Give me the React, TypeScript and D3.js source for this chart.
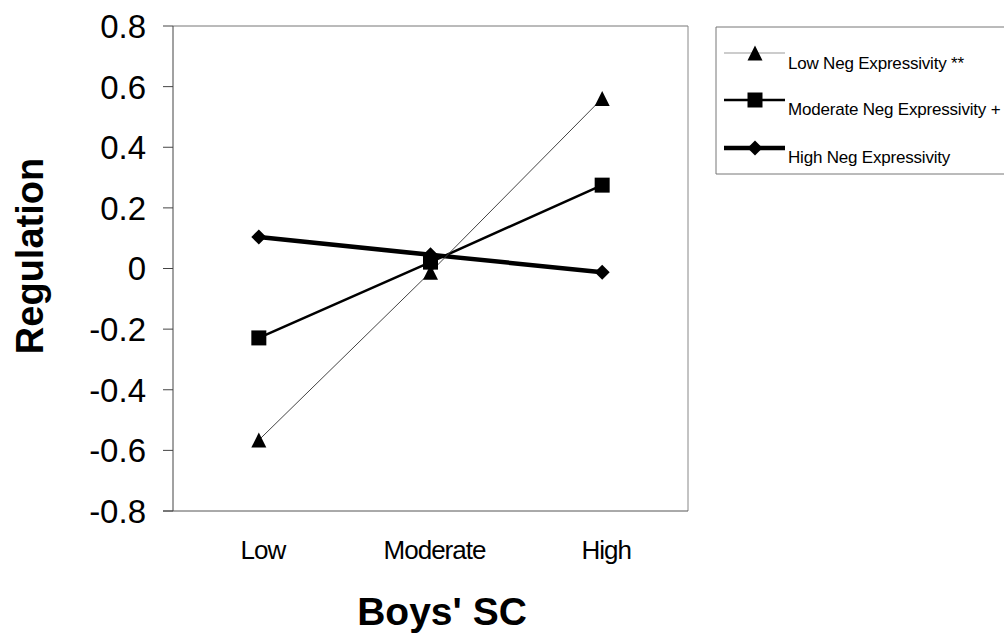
import React from 'react';
import * as d3 from 'd3';

// values
const categories = ['Low', 'Moderate', 'High'];
const lowNeg = [-0.566, -0.012, 0.561];
const modNeg = [-0.229, 0.021, 0.275];
const highNeg = [0.104, 0.045, -0.012];
const yTicks = [0.8, 0.6, 0.4, 0.2, 0, -0.2, -0.4, -0.6, -0.8];
const seriesNames = ['Low Neg Expressivity **', 'Moderate Neg Expressivity +', 'High Neg Expressivity'];

const font = '"Liberation Sans", Arial, sans-serif';

// marker shapes as d3 symbol types (size = width in px here)
const triType = {
  draw(ctx: any, s: number) {
    const h = s / 2;
    ctx.moveTo(0, -h);
    ctx.lineTo(h, h);
    ctx.lineTo(-h, h);
    ctx.closePath();
  },
};
const sqType = {
  draw(ctx: any, s: number) {
    const h = s / 2;
    ctx.rect(-h, -h, s, s);
  },
};
const diaType = {
  draw(ctx: any, s: number) {
    const h = s / 2;
    ctx.moveTo(0, -h);
    ctx.lineTo(h, 0);
    ctx.lineTo(0, h);
    ctx.lineTo(-h, 0);
    ctx.closePath();
  },
};

const series = [
  { name: seriesNames[0], values: lowNeg, type: triType, size: 15, width: 1, color: '#444', legendColor: '#999' },
  { name: seriesNames[1], values: modNeg, type: sqType, size: 15, width: 2.5, color: '#000', legendColor: '#000' },
  { name: seriesNames[2], values: highNeg, type: diaType, size: 15, width: 4.5, color: '#000', legendColor: '#000' },
];

export default function App() {
  const W = 1004;
  const H = 635;
  const left = 173, right = 688, top = 26, bottom = 511;

  const x = d3.scaleBand().domain(categories).range([left, right]);
  const y = d3.scaleLinear().domain([-0.8, 0.8]).range([bottom, top]);
  const cx = (c: string) => (x(c) as number) + x.bandwidth() / 2;

  const line = d3
    .line<number>()
    .x((_, i) => cx(categories[i]))
    .y((d) => y(d));

  const fmt = (v: number) => (v === 0 ? '0' : d3.format('.1f')(v).replace('−', '-'));

  const legX = 716, legTop = 27, legBottom = 174;
  const legRowY = [53, 100, 148];
  const legTextY = [69, 115, 163];

  return (
    <div style={{ position: 'absolute', left: 0, top: 0 }}>
      <svg width={W} height={H} style={{ display: 'block', background: '#fff' }}>
        {/* plot frame */}
        <line x1={left} x2={right} y1={top} y2={top} stroke="#777" strokeWidth={1} />
        <line x1={right} x2={right} y1={top} y2={bottom} stroke="#888" strokeWidth={1} />
        <line x1={left - 10} x2={right} y1={bottom} y2={bottom} stroke="#555" strokeWidth={1} />
        <line x1={left} x2={left} y1={top} y2={bottom} stroke="#444" strokeWidth={1} />

        {/* y ticks */}
        {yTicks.map((t) => (
          <g key={t}>
            <line x1={left - 10} x2={left} y1={y(t)} y2={y(t)} stroke="#444" strokeWidth={1} />
            <text
              x={146}
              y={y(t)}
              dy="0.36em"
              textAnchor="end"
              fontFamily={font}
              fontSize={33}
              fill="#000"
            >
              {fmt(t)}
            </text>
          </g>
        ))}

        {/* category labels */}
        {categories.map((c) => (
          <text
            key={c}
            x={cx(c) + 4}
            y={559}
            textAnchor="middle"
            fontFamily={font}
            fontSize={26}
            letterSpacing={-1}
            fill="#000"
          >
            {c}
          </text>
        ))}

        {/* axis titles */}
        <text
          transform={`translate(43,256) rotate(-90)`}
          textAnchor="middle"
          fontFamily={font}
          fontWeight="bold"
          fontSize={38}
          fill="#000"
        >
          Regulation
        </text>
        <text x={442} y={625} textAnchor="middle" fontFamily={font} fontWeight="bold" fontSize={39} fill="#000">
          Boys' SC
        </text>

        {/* series lines, thickest first */}
        {[...series].reverse().map((s) => (
          <path key={s.name} d={line(s.values) as string} fill="none" stroke={s.color} strokeWidth={s.width} />
        ))}
        {series.map((s) =>
          s.values.map((v, i) => (
            <path
              key={s.name + i}
              transform={`translate(${cx(categories[i])},${y(v)})`}
              d={d3.symbol().type(s.type as any).size(s.size)() as string}
              fill="#000"
            />
          ))
        )}

        {/* legend (right edge runs off the page) */}
        <line x1={legX} x2={1004} y1={legTop} y2={legTop} stroke="#777" strokeWidth={1} />
        <line x1={legX} x2={1004} y1={legBottom} y2={legBottom} stroke="#777" strokeWidth={1} />
        <line x1={legX} x2={legX} y1={legTop} y2={legBottom} stroke="#777" strokeWidth={1} />
        {series.map((s, i) => (
          <g key={s.name}>
            <line x1={724} x2={785} y1={legRowY[i]} y2={legRowY[i]} stroke={s.legendColor} strokeWidth={s.width} />
            <path
              transform={`translate(755,${legRowY[i]})`}
              d={d3.symbol().type(s.type as any).size(s.size)() as string}
              fill="#000"
            />
            <text x={788} y={legTextY[i]} fontFamily={font} fontSize={17} letterSpacing={-0.2} fill="#000">
              {s.name}
            </text>
          </g>
        ))}
      </svg>
    </div>
  );
}
